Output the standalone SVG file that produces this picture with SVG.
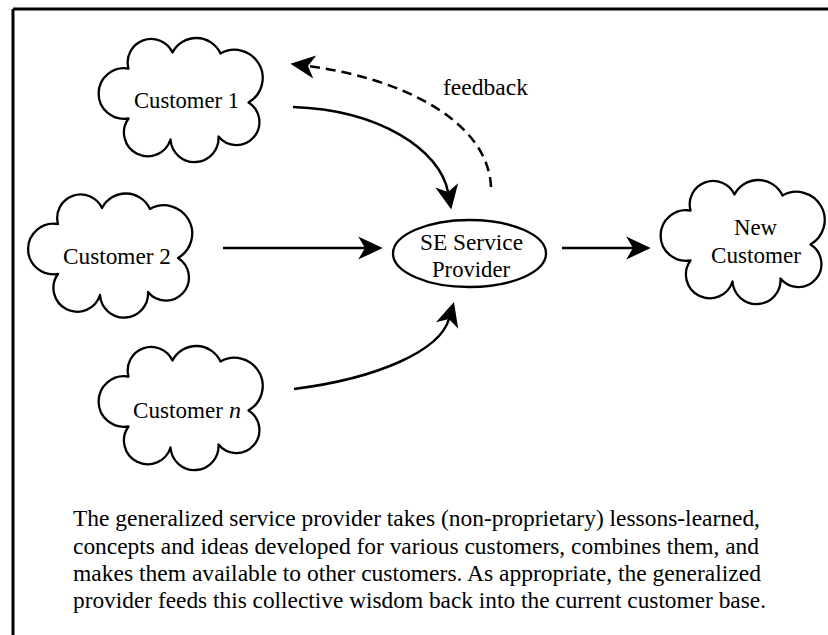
<svg xmlns="http://www.w3.org/2000/svg" width="828" height="635" viewBox="0 0 828 635">
  <style>
    .cloud { fill: #fff; stroke: #000; stroke-width: 2.3; stroke-linejoin: round; }
    .lbl { font-family: 'Liberation Serif', 'Times New Roman', Times, serif; font-size: 24px; fill: #000; }
    .cap { font-family: 'Liberation Serif', 'Times New Roman', Times, serif; font-size: 22.5px; fill: #000; }
    .conn { fill: none; stroke: #000; stroke-width: 2.5; }
    .dash { stroke-dasharray: 10 6; }
  </style>
  <defs>
    <path id="cloudShape" d="M-52,20 A25.4,25.4 0 1 1 -52,-30 A23.5,23.5 0 0 1 -8,-46 A26.7,26.7 0 0 1 40,-45 A28,28 0 0 1 68,4 A23,23 0 1 1 38,38 A24,24 0 0 1 -10,41 A23.8,23.8 0 1 1 -52,20 Z"/>
    <marker id="arrow" markerUnits="userSpaceOnUse" markerWidth="30" markerHeight="30" viewBox="-20 -10 22 20" refX="-13" refY="0" orient="auto">
      <path d="M0,0 L-18,-8.5 L-13,0 L-18,8.5 Z" fill="#000"/>
    </marker>
  </defs>
  <rect width="828" height="635" fill="#fff"/>
  <g id="frame">
    <line x1="13" y1="9" x2="828" y2="9" stroke="#000" stroke-width="3"/>
    <line x1="13" y1="9" x2="13" y2="635" stroke="#000" stroke-width="3"/>
  </g>
  <g id="connectors">
    <path class="conn" d="M293,107 C380,110 440,150 448,192" marker-end="url(#arrow)"/>
    <path class="conn dash" d="M491,187 C488,120 400,78 308,66" marker-end="url(#arrow)"/>
    <path class="conn" d="M223,248 L365,248" marker-end="url(#arrow)"/>
    <path class="conn" d="M294,389 C380,378 440,350 449,319" marker-end="url(#arrow)"/>
    <path class="conn" d="M562,248 L633,248" marker-end="url(#arrow)"/>
    <text class="lbl" x="443" y="95" textLength="85" lengthAdjust="spacingAndGlyphs">feedback</text>
  </g>
  <g id="customer1">
    <use href="#cloudShape" class="cloud" transform="translate(180.5,98.5)"/>
    <text class="lbl" x="134" y="108" textLength="105" lengthAdjust="spacingAndGlyphs">Customer 1</text>
  </g>
  <g id="customer2">
    <use href="#cloudShape" class="cloud" transform="translate(110,254)"/>
    <text class="lbl" x="63" y="264" textLength="108" lengthAdjust="spacingAndGlyphs">Customer 2</text>
  </g>
  <g id="customerN">
    <use href="#cloudShape" class="cloud" transform="translate(180.5,406.5)"/>
    <text class="lbl" x="133" y="418" textLength="90" lengthAdjust="spacingAndGlyphs">Customer</text>
    <text class="lbl" x="229" y="418" font-style="italic">n</text>
  </g>
  <g id="newCustomer">
    <use href="#cloudShape" class="cloud" transform="translate(742.5,240.5)"/>
    <text class="lbl" x="734" y="235" textLength="43" lengthAdjust="spacingAndGlyphs">New</text>
    <text class="lbl" x="711" y="263" textLength="90" lengthAdjust="spacingAndGlyphs">Customer</text>
  </g>
  <g id="provider">
    <ellipse cx="469.5" cy="253.5" rx="76.5" ry="33.5" fill="#fff" stroke="#000" stroke-width="2.3"/>
    <text class="lbl" x="420" y="250" textLength="103" lengthAdjust="spacingAndGlyphs">SE Service</text>
    <text class="lbl" x="432" y="277" textLength="78" lengthAdjust="spacingAndGlyphs">Provider</text>
  </g>
  <g id="caption">
    <text class="cap" x="73" y="526" textLength="687" lengthAdjust="spacingAndGlyphs">The generalized service provider takes (non-proprietary) lessons-learned,</text>
    <text class="cap" x="73" y="554" textLength="686" lengthAdjust="spacingAndGlyphs">concepts and ideas developed for various customers, combines them, and</text>
    <text class="cap" x="73" y="581" textLength="688" lengthAdjust="spacingAndGlyphs">makes them available to other customers. As appropriate, the generalized</text>
    <text class="cap" x="73" y="608" textLength="693" lengthAdjust="spacingAndGlyphs">provider feeds this collective wisdom back into the current customer base.</text>
  </g>
</svg>
